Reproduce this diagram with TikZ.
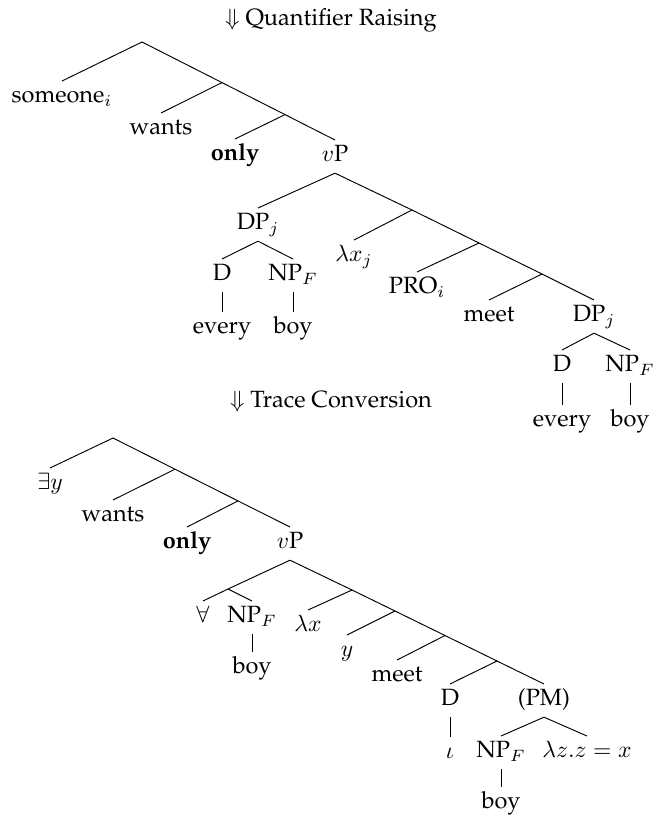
\documentclass[tikz,border=0pt]{standalone}
\usepackage[T1]{fontenc}
\usepackage{palatino}
\begin{document}
\begin{tikzpicture}[x=0.425pt,y=-0.425pt,
  lbl/.style={inner sep=0pt,text height=9pt,text depth=4.7pt,anchor=north},
  ttl/.style={inner sep=0pt,anchor=base},
  every path/.style={line width=0.4pt}]
\useasboundingbox (0,0) rectangle (654,817);

% ---------- first tree: after Quantifier Raising ----------
\node[ttl] (t1) at (331,25) {$\Downarrow$ Quantifier Raising};

\coordinate (r1) at (142,42);
\node[lbl] (someone) at (62,81) {someone$_i$};
\coordinate (b11) at (222,82.6);
\node[lbl] (wants1) at (161,113) {wants};
\coordinate (b12) at (285,114.6);
\node[lbl] (only1) at (235,139) {\textbf{only}};
\node[lbl] (vp1) at (335,140) {$v$P};

\node[lbl] (dpj1) at (258,208) {DP$_j$};
\coordinate (b13) at (412,210);
\node[lbl] (lam1) at (354,240) {$\lambda x_j$};
\coordinate (b14) at (479,243);
\node[lbl] (pro) at (417,272) {PRO$_i$};
\coordinate (b15) at (542,274);
\node[lbl] (meet1) at (489,300) {meet};
\node[lbl] (dpj2) at (594,300) {DP$_j$};

\node[lbl] (d1) at (222,259) {D};
\node[lbl] (np1) at (293,259) {NP$_F$};
\node[lbl] (every1) at (222,312) {every};
\node[lbl] (boy1) at (293,312) {boy};

\node[lbl] (d2) at (562,350) {D};
\node[lbl] (np2) at (630,350) {NP$_F$};
\node[lbl] (every2) at (562,405) {every};
\node[lbl] (boy2) at (630,405) {boy};

\draw (r1) -- (someone.north);
\draw (r1) -- (b11);
\draw (b11) -- (wants1.north);
\draw (b11) -- (b12);
\draw (b12) -- (only1.north);
\draw (b12) -- (vp1.north);
\draw (vp1.south) -- (dpj1.north);
\draw (vp1.south) -- (b13);
\draw (b13) -- (lam1.north);
\draw (b13) -- (b14);
\draw (b14) -- (pro.north);
\draw (b14) -- (b15);
\draw (b15) -- (meet1.north);
\draw (b15) -- (dpj2.north);
\draw (dpj1.south) -- (d1.north);
\draw (dpj1.south) -- (np1.north);
\draw (d1.south) -- (every1.north);
\draw (np1.south) -- (boy1.north);
\draw (dpj2.south) -- (d2.north);
\draw (dpj2.south) -- (np2.north);
\draw (d2.south) -- (every2.north);
\draw (np2.south) -- (boy2.north);

% ---------- second tree: after Trace Conversion ----------
\node[ttl] (t2) at (331,407) {$\Downarrow$ Trace Conversion};

\coordinate (r2) at (113,438);
\node[lbl] (ey) at (50,468) {$\exists y$};
\coordinate (b21) at (175,469.2);
\node[lbl] (wants2) at (113,500) {wants};
\coordinate (b22) at (238,500.9);
\node[lbl] (only2) at (187,527) {\textbf{only}};
\node[lbl] (vp2) at (290,527) {$v$P};

\coordinate (b23) at (228,589);
\node[lbl] (fa) at (203,601) {$\forall$};
\node[lbl] (np3) at (252,601) {NP$_F$};
\node[lbl] (boy3) at (252,652) {boy};

\coordinate (b24) at (352,590);
\node[lbl] (lam2) at (308,610) {$\lambda x$};
\coordinate (b25) at (395,611);
\node[lbl] (yy) at (347,635) {$y$};
\coordinate (b26) at (445,635.5);
\node[lbl] (meet2) at (397,660) {meet};
\coordinate (b27) at (497,661);
\node[lbl] (d3) at (450,684) {D};
\node[lbl] (pm) at (544,684) {(PM)};
\node[lbl] (iota) at (450,737) {$\iota$};
\node[lbl] (np4) at (501,736) {NP$_F$};
\node[lbl] (lamz) at (587,736) {$\lambda z.z=x$};
\node[lbl] (boy4) at (501,787) {boy};

\draw (r2) -- (ey.north);
\draw (r2) -- (b21);
\draw (b21) -- (wants2.north);
\draw (b21) -- (b22);
\draw (b22) -- (only2.north);
\draw (b22) -- (vp2.north);
\draw (vp2.south) -- (b23);
\draw (b23) -- (fa.north);
\draw (b23) -- (np3.north);
\draw (np3.south) -- (boy3.north);
\draw (vp2.south) -- (b24);
\draw (b24) -- (lam2.north);
\draw (b24) -- (b25);
\draw (b25) -- (yy.north);
\draw (b25) -- (b26);
\draw (b26) -- (meet2.north);
\draw (b26) -- (b27);
\draw (b27) -- (d3.north);
\draw (b27) -- (pm.north);
\draw (d3.south) -- (iota.north);
\draw (pm.south) -- (np4.north);
\draw (pm.south) -- (lamz.north);
\draw (np4.south) -- (boy4.north);
\end{tikzpicture}
\end{document}
